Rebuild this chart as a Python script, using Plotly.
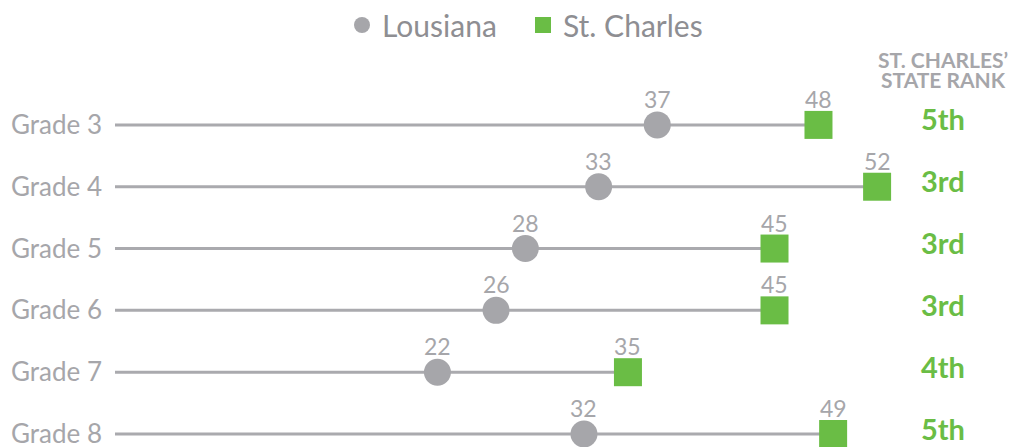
import plotly.graph_objects as go

grades = ["Grade 3", "Grade 4", "Grade 5", "Grade 6", "Grade 7", "Grade 8"]
louisiana = [37, 33, 28, 26, 22, 32]
st_charles = [48, 52, 45, 45, 35, 49]
ranks = ["5th", "3rd", "3rd", "3rd", "4th", "5th"]

GRAY = "#a6a6aa"
LINE = "#aaaaae"
GREEN = "#6abd45"
FONT = "Lato, Roboto, sans-serif"

ypos = list(range(len(grades)))

fig = go.Figure()

# connecting lines from 0 to the larger value
lx, ly = [], []
for i, (a, b) in enumerate(zip(louisiana, st_charles)):
    lx += [0, max(a, b), None]
    ly += [i, i, None]
fig.add_trace(go.Scatter(x=lx, y=ly, mode="lines", line=dict(color=LINE, width=3),
                         showlegend=False, hoverinfo="skip", cliponaxis=False))

fig.add_trace(go.Scatter(
    x=louisiana, y=ypos, mode="markers", name="Lousiana",
    marker=dict(symbol="circle", size=27, color=GRAY), cliponaxis=False))

fig.add_trace(go.Scatter(
    x=st_charles, y=ypos, mode="markers", name="St. Charles",
    marker=dict(symbol="square", size=28, color=GREEN), cliponaxis=False))

annotations = []
for series in (louisiana, st_charles):
    for i, v in enumerate(series):
        annotations.append(dict(x=v, y=i, xref="x", yref="y", text=str(v),
                                showarrow=False, yshift=26,
                                font=dict(size=23, color=GRAY, family=FONT)))

RANK_X = 56.5
for i, r in enumerate(ranks):
    annotations.append(dict(x=RANK_X, y=i, xref="x", yref="y", text="<b>%s</b>" % r,
                            showarrow=False, font=dict(size=29, color=GREEN, family=FONT),
                            yshift=6))
annotations.append(dict(x=RANK_X, y=1 + (94 - 59.5) / 353, xref="x", yref="paper",
                        yanchor="middle", text="<b>ST. CHARLES’</b>", showarrow=False,
                        font=dict(size=21, color=GRAY, family=FONT)))
annotations.append(dict(x=RANK_X, y=1 + (94 - 79.5) / 353, xref="x", yref="paper",
                        yanchor="middle", text="<b>STATE RANK</b>", showarrow=False,
                        font=dict(size=21, color=GRAY, family=FONT)))
fig.update_layout(
    width=1018, height=447,
    margin=dict(l=107, r=17, t=86, b=8, autoexpand=False),
    paper_bgcolor="white", plot_bgcolor="white",
    font=dict(family=FONT, color=GRAY),
    xaxis=dict(range=[0, 61], visible=False, showgrid=False, zeroline=False),
    yaxis=dict(range=[5.21, -0.5], tickvals=ypos, ticktext=grades, showgrid=False,
               zeroline=False, showline=False, ticks="", ticklabelstandoff=12,
               automargin=False, ticklabeloverflow="allow",
               tickfont=dict(size=26, color=GRAY, family=FONT)),
    legend=dict(orientation="h", xref="container", x=334 / 1018, xanchor="left",
                yref="container", y=1 - 17 / 447, yanchor="middle",
                font=dict(size=30, color="#8e8e92", family=FONT),
                entrywidth=136, entrywidthmode="pixels",
                itemsizing="trace"),
    annotations=annotations,
    showlegend=True,
)

fig.write_html("out.html")
